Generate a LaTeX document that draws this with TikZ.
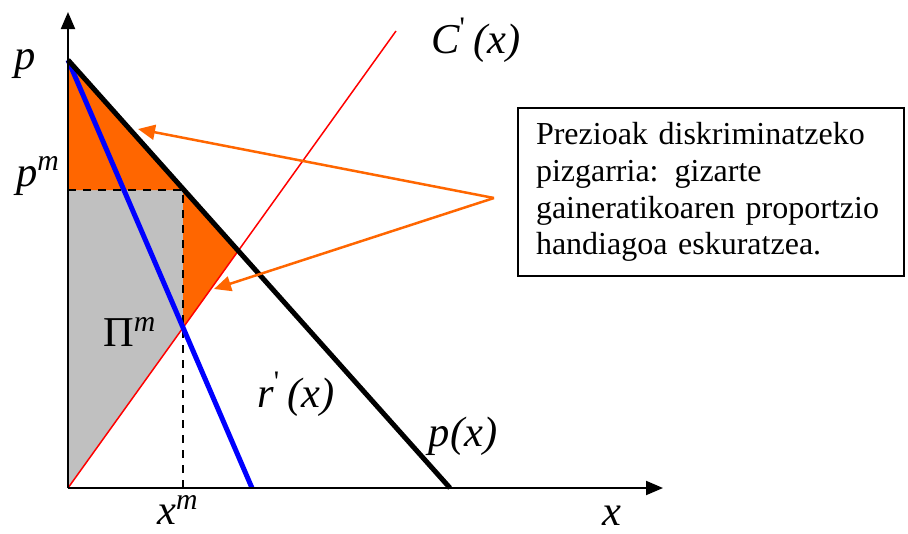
\documentclass[tikz,border=0pt]{standalone}
\usepackage{fontspec}
\setmainfont{Liberation Serif}
\usetikzlibrary{arrows.meta}
\definecolor{SurplusOrange}{RGB}{255,102,0}
\definecolor{ProfitGray}{RGB}{192,192,192}
\definecolor{MRBlue}{RGB}{0,0,255}
\definecolor{MCRed}{RGB}{255,0,0}
\tikzset{
  axis/.style={-{Triangle[length=6.8pt,width=5.6pt]},line width=0.8pt},
  demand/.style={line width=2pt,black},
  mrline/.style={line width=2pt,MRBlue},
  mcline/.style={line width=0.6pt,MCRed},
  guide/.style={dashed,line width=0.6pt},
  pointer/.style={-{Triangle[length=6.8pt,width=6pt]},SurplusOrange,line width=1pt},
  lbl/.style={font=\fontsize{17}{20}\selectfont\itshape,inner sep=0pt},
  notebox/.style={draw,line width=0.8pt,align=left,text width=140pt,
                  inner xsep=7.2pt,minimum height=67.2pt,
                  font=\fontsize{12.8}{14.7}\selectfont},
}
\begin{document}
\begin{tikzpicture}[x=0.4pt,y=-0.4pt]
  \useasboundingbox (0,0) rectangle (908,534);
  % key points
  \coordinate (O) at (68,488);
  \coordinate (pmax) at (68,60);
  \coordinate (pm) at (68,190);
  \coordinate (mono) at (183,190);
  \coordinate (cross) at (183,328);
  \coordinate (eff) at (238,251);
  \coordinate (xm) at (183,488);
  \coordinate (dend) at (450,488);
  \coordinate (mrend) at (252,488);
  \coordinate (mctop) at (396,31);
  \coordinate (apex) at (494,198);
  \coordinate (hitA) at (138,129);
  \coordinate (hitB) at (214,289);
  % areas
  \fill[ProfitGray] (pm) -- (mono) -- (cross) -- (O) -- cycle;
  \fill[SurplusOrange] (pmax) -- (mono) -- (pm) -- cycle;
  \fill[SurplusOrange] (mono) -- (eff) -- (cross) -- cycle;
  \draw[guide] (pm) -- (mono) -- (xm);
  % curves
  \draw[mcline] (O) -- (mctop);
  \draw[mrline] (pmax) -- (mrend);
  \draw[demand] (pmax) -- (dend);
  % axes
  \draw[axis] (O) -- (68,12) coordinate (ytip);
  \draw[axis] (O) -- (663,488) coordinate (xtip);
  % note and pointers
  \node[notebox,anchor=north west] (note) at (517,107)
    {Prezioak diskriminatzeko\\ pizgarria: gizarte\\ gaineratikoaren proportzio\\ handiagoa eskuratzea.};
  \draw[pointer] (apex) -- (hitA);
  \draw[pointer] (apex) -- (hitB);
  % labels
  \node[lbl] (lp) at (25,64) {p};
  \node[lbl] (lpm) at (38,176) {p\textsuperscript{m}};
  \node[lbl] (lmc) at (476,40) {C\textsuperscript{\upshape\textquotesingle}\,(x)};
  \node[lbl,font=\fontsize{17}{20}\selectfont] (lpi) at (130,332) {Π\textsuperscript{\itshape m}};
  \node[lbl] (lmr) at (296,394) {r\textsuperscript{\upshape\textquotesingle}\,(x)};
  \node[lbl] (ld) at (463,436) {p(x)};
  \node[lbl] (lxm) at (178,510) {x\textsuperscript{m}};
  \node[lbl] (lx) at (612,516) {x};
\end{tikzpicture}
\end{document}
